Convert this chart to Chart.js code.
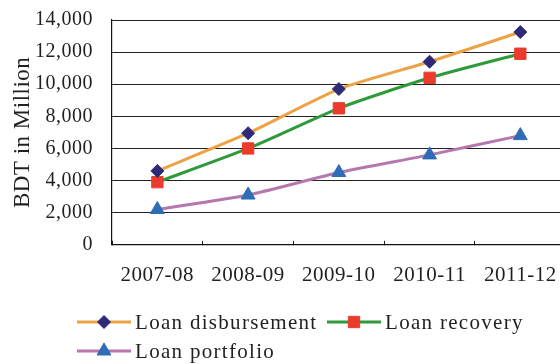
<!DOCTYPE html>
<html>
<head>
<meta charset="utf-8">
<script src="https://cdn.jsdelivr.net/npm/chart.js@4.4.1/dist/chart.umd.min.js"></script>
<style>
  html, body { margin: 0; padding: 0; background: #fff; overflow: hidden; width: 560px; height: 364px; }
  canvas { display: block; }
</style>
</head>
<body>
<canvas id="loans" width="580" height="364"></canvas>
<script>
// Fiscal years on the horizontal axis
const categories = ['2007-08', '2008-09', '2009-10', '2010-11', '2011-12'];

// Amounts in million BDT
const loanDisbursement = [4600, 6950, 9700, 11400, 13250];
const loanRecovery = [3900, 6000, 8500, 10400, 11900];
const loanPortfolio = [2200, 3100, 4500, 5600, 6800];

// Vertical axis range
const yMin = 0;
const yMax = 14000;
const yStep = 2000;

const serif = '"Liberation Serif", "Times New Roman", serif';
const textColor = '#231f20';

// Slight tracking on all canvas text, set before measuring and before drawing
const tracking = {
  id: 'tracking',
  beforeUpdate(chart) { chart.ctx.letterSpacing = '0.5px'; },
  beforeDraw(chart) { chart.ctx.letterSpacing = '0.5px'; }
};

// Line-with-marker legend laid out in two rows under the axis
const lineLegend = {
  id: 'lineLegend',
  afterDraw(chart) {
    const ctx = chart.ctx;
    const slots = [
      { x: 77, y: 322 },
      { x: 327, y: 322 },
      { x: 77, y: 351 }
    ];
    const lineLen = 54;
    chart.data.datasets.forEach((ds, i) => {
      const s = slots[i];
      ctx.save();
      ctx.lineWidth = ds.borderWidth;
      ctx.strokeStyle = ds.borderColor;
      ctx.beginPath();
      ctx.moveTo(s.x, s.y);
      ctx.lineTo(s.x + lineLen, s.y);
      ctx.stroke();
      ctx.fillStyle = ds.pointBackgroundColor;
      ctx.strokeStyle = ds.pointBorderColor;
      ctx.lineWidth = 1;
      Chart.helpers.drawPoint(ctx, {
        pointStyle: ds.pointStyle,
        radius: ds.pointRadius,
        rotation: 0,
        borderWidth: 1
      }, s.x + lineLen / 2, s.y);
      ctx.letterSpacing = '1.3px';
      ctx.font = '21px ' + serif;
      ctx.fillStyle = textColor;
      ctx.textBaseline = 'middle';
      ctx.textAlign = 'left';
      ctx.fillText(ds.label, s.x + lineLen + 4, s.y + 1);
      ctx.restore();
    });
  }
};

new Chart(document.getElementById('loans'), {
  type: 'line',
  data: {
    labels: categories,
    datasets: [
      {
        label: 'Loan disbursement',
        data: loanDisbursement,
        borderColor: '#eda245',
        borderWidth: 3,
        pointStyle: 'rectRot',
        pointRadius: 6.5,
        pointBackgroundColor: '#2e2a78',
        pointBorderColor: '#2e2a78',
        pointBorderWidth: 1,
        tension: 0.2
      },
      {
        label: 'Loan recovery',
        data: loanRecovery,
        borderColor: '#2f9a3a',
        borderWidth: 3,
        pointStyle: 'rect',
        pointRadius: 8,
        pointBackgroundColor: '#ea3b2c',
        pointBorderColor: '#ea3b2c',
        pointBorderWidth: 1,
        tension: 0.2
      },
      {
        label: 'Loan portfolio',
        data: loanPortfolio,
        borderColor: '#b677ae',
        borderWidth: 3,
        pointStyle: 'triangle',
        pointRadius: 8,
        pointBackgroundColor: '#2e6cb6',
        pointBorderColor: '#2e6cb6',
        pointBorderWidth: 1,
        tension: 0.2
      }
    ]
  },
  options: {
    responsive: false,
    animation: false,
    devicePixelRatio: 1,
    layout: { padding: { top: 20, right: 13, bottom: 54, left: 0 } },
    plugins: {
      legend: { display: false },
      tooltip: { enabled: false }
    },
    scales: {
      x: {
        offset: true,
        // short tick marks pointing up into the plot at category boundaries
        grid: { display: true, drawOnChartArea: false, drawTicks: true, tickLength: -4, color: '#222', offset: true },
        border: { display: true, color: '#111', width: 1.2 },
        ticks: {
          padding: 22,
          color: textColor,
          font: { family: serif, size: 21 },
          maxRotation: 0,
          autoSkip: false
        }
      },
      y: {
        min: yMin,
        max: yMax,
        grid: { color: '#222', lineWidth: 1, drawTicks: false },
        border: { display: true, color: '#111', width: 1.2 },
        ticks: {
          stepSize: yStep,
          padding: 19,
          color: textColor,
          font: { family: serif, size: 20 }
        },
        title: {
          display: true,
          text: 'BDT in Million',
          color: textColor,
          font: { family: serif, size: 23 },
          padding: { top: 9, bottom: 0 }
        },
        afterFit(scale) {
          scale.width = 112;
          // only half a label of room is needed above and below the axis
          scale.paddingTop = 12;
          scale.paddingBottom = 12;
        }
      }
    }
  },
  plugins: [tracking, lineLegend]
});
</script>
</body>
</html>
